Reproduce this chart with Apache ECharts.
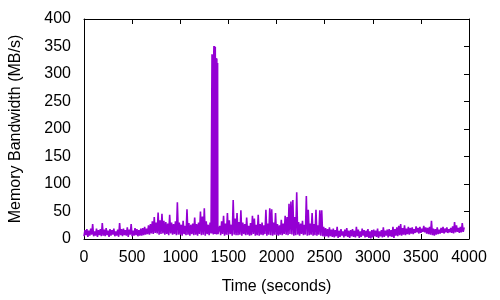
<!DOCTYPE html>
<html>
<head>
<meta charset="utf-8">
<script src="https://cdn.jsdelivr.net/npm/echarts@6/dist/echarts.min.js"></script>
<style>html,body{margin:0;padding:0;background:#fff}#c{width:500px;height:300px}</style>
</head>
<body>
<div id="c"></div>
<script>
// 20-second bins: low sample at t = 20*i, high sample at t = 20*i + 10
const binSeconds = 20;
const lows = [
  5,7,4,6,8,5,6,4,7,5,
  6,5,7,4,6,8,5,6,4,7,
  5,7,6,4,8,5,6,7,5,6,
  6,7,8,9,8,10,9,11,10,8,
  9,10,8,9,7,10,8,9,7,8,
  8,6,9,7,8,6,9,7,8,6,
  9,7,8,6,9,7,10,8,9,7,
  8,7,9,6,8,7,9,6,8,7,
  7,8,6,9,7,8,6,7,9,6,
  7,6,8,7,9,6,8,7,6,8,
  7,6,8,7,9,8,7,9,8,6,
  7,8,6,9,7,8,6,7,8,6,
  7,6,8,6,5,4,5,3,5,4,
  3,5,2,4,6,3,5,4,2,5,
  4,3,5,2,4,6,3,4,2,1,
  3,5,4,2,5,3,4,6,3,5,
  4,2,6,5,7,6,8,7,9,8,
  10,9,11,12,10,11,13,12,10,9,
  8,7,6,8,9,10,11,10,12,11,
  12,11,10,12,13,11,12,13
];
const highs = [
  16,18,15,19,27,14,19,16,18,29,
  17,20,15,18,16,19,14,17,29,18,
  19,16,21,17,27,15,20,18,16,19,
  20,22,19,25,27,32,40,30,48,34,
  46,33,31,28,44,30,27,32,67,30,
  26,33,24,54,29,26,28,39,27,30,
  50,41,56,32,26,30,336,351,325,22,
  24,32,42,28,47,34,26,71,37,47,
  31,52,30,27,39,24,29,42,37,26,
  44,27,30,25,53,28,56,54,30,47,
  27,25,35,28,42,40,64,68,71,40,
  85,31,28,33,26,78,53,28,47,27,
  53,25,52,52,22,20,18,21,17,19,
  16,22,15,18,14,17,20,15,16,18,
  15,22,17,14,19,16,15,18,14,16,
  17,15,19,14,16,21,15,17,18,16,
  22,18,21,24,27,20,25,19,22,20,
  21,18,23,20,22,19,24,21,20,22,
  33,19,18,21,17,20,22,19,21,18,
  20,23,31,25,20,22,29,21
];
// finer samples through the burst around t = 1330..1380 s (every 4 s)
const burstStart = 1328;
const burstStep = 4;
const burstValues = [9,336,10,335,8,333,11,351,9,349,10,329,8,328,11,320,9];

const xTicks = {min: 0, max: 4000, step: 500};
const yTicks = {min: 0, max: 400, step: 50};

const data = [];
for (let i = 0; i < lows.length; i++) {
  data.push([i * binSeconds, lows[i]]);
  data.push([i * binSeconds + binSeconds / 2, highs[i]]);
}
for (let j = 0; j < burstValues.length; j++) {
  data.push([burstStart + j * burstStep, burstValues[j]]);
}
data.sort((a, b) => a[0] - b[0]);

const font = 'Liberation Sans, Arial, sans-serif';
const axisLineStyle = {show: true, onZero: false, lineStyle: {color: '#000', width: 1}};
const tickStyle = {show: true, inside: true, length: 5, lineStyle: {color: '#000', width: 1}};
const plain = v => String(v);

const chart = echarts.init(document.getElementById('c'), null, {renderer: 'canvas'});
chart.setOption({
  animation: false,
  backgroundColor: '#fff',
  grid: {left: 84, right: 31, top: 19, bottom: 61, containLabel: false},
  xAxis: [{
    type: 'value', min: xTicks.min, max: xTicks.max, interval: xTicks.step,
    position: 'bottom',
    name: 'Time (seconds)', nameLocation: 'middle', nameGap: 40,
    nameTextStyle: {fontFamily: font, fontSize: 16, color: '#000'},
    axisLine: axisLineStyle, axisTick: tickStyle,
    axisLabel: {fontFamily: font, fontSize: 16, color: '#000', margin: 11, formatter: plain},
    splitLine: {show: false}
  }, {
    type: 'value', min: xTicks.min, max: xTicks.max, interval: xTicks.step,
    position: 'top',
    axisLine: axisLineStyle, axisTick: tickStyle,
    axisLabel: {show: false}, splitLine: {show: false}
  }],
  yAxis: [{
    type: 'value', min: yTicks.min, max: yTicks.max, interval: yTicks.step,
    position: 'left',
    name: 'Memory Bandwidth (MB/s)', nameLocation: 'middle', nameGap: 60,
    nameTextStyle: {fontFamily: font, fontSize: 16, color: '#000'},
    axisLine: axisLineStyle, axisTick: {show: false},
    axisLabel: {fontFamily: font, fontSize: 16, color: '#000', margin: 13, formatter: plain},
    splitLine: {show: false}
  }, {
    type: 'value', min: yTicks.min, max: yTicks.max, interval: yTicks.step,
    position: 'right',
    axisLine: axisLineStyle, axisTick: tickStyle,
    axisLabel: {show: false}, splitLine: {show: false}
  }],
  series: [{
    type: 'line',
    data: data,
    xAxisIndex: 0, yAxisIndex: 0,
    showSymbol: false,
    symbol: 'none',
    lineStyle: {color: '#9400d3', width: 1.6},
    itemStyle: {color: '#9400d3'}
  }]
});
</script>
</body>
</html>
